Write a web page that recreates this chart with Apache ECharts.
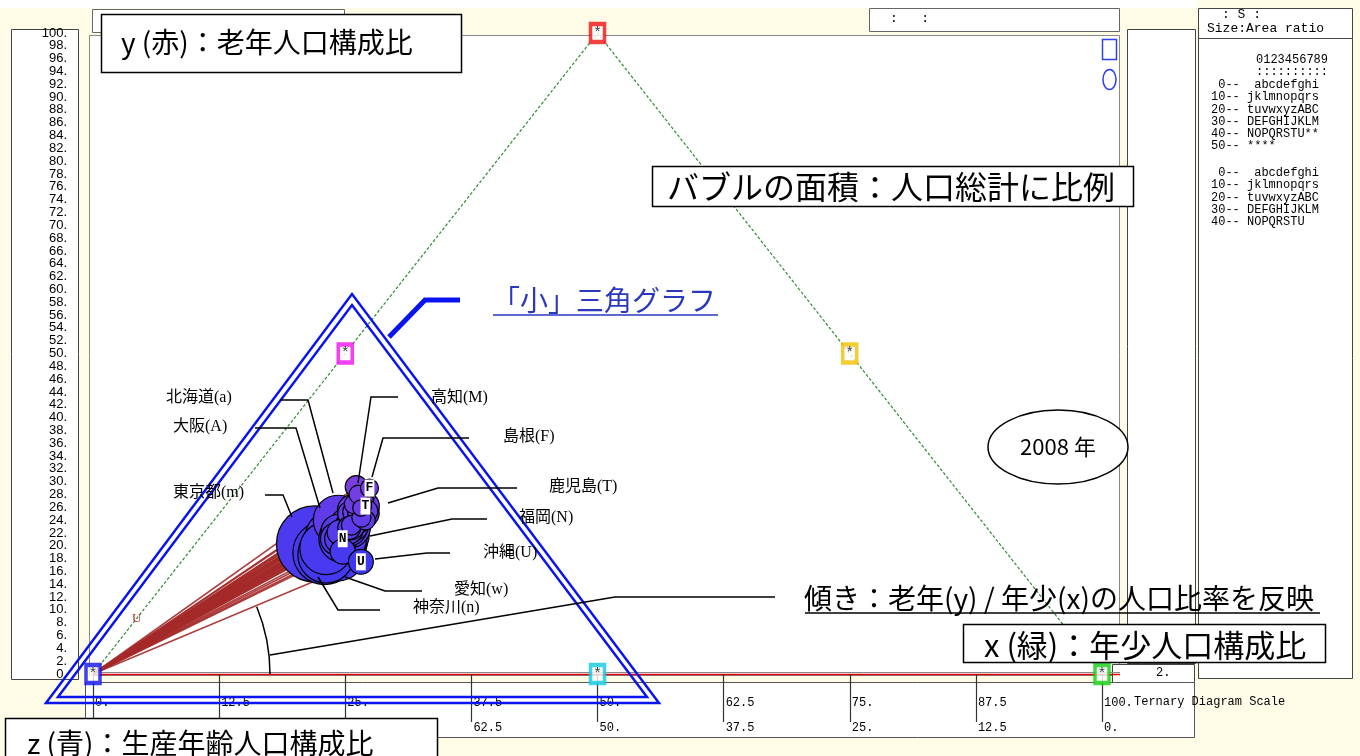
<!DOCTYPE html>
<html><head><meta charset="utf-8">
<script src="https://cdn.jsdelivr.net/npm/echarts@6/dist/echarts.min.js"></script>
<style>html,body{margin:0;padding:0;background:#fefce6}#c{width:1360px;height:756px}</style>
</head><body><div id="c"></div>
<script>
// ---- data (2008, by prefecture code 1..47) ----
const letters = ['a','b','c','d','e','f','g','h','i','j','k','l','m','n','o','p','q','r','s','t','u','v','w','x','y','z',
  'A','B','C','D','E','F','G','H','I','J','K','L','M','N','O','P','Q','R','S','T','U'];
// x : youth (0-14) ratio %
const youth = [12.3,13.0,13.1,13.6,11.5,13.2,14.1,13.8,13.9,14.0,13.8,13.3,11.8,13.5,13.1,13.2,14.0,14.4,14.0,13.9,
  14.2,14.0,14.7,13.9,15.2,13.2,13.6,14.0,13.4,13.4,13.6,12.9,14.0,14.0,12.9,12.6,13.7,13.3,12.3,14.2,
  15.0,14.1,14.4,13.5,14.4,13.9,17.8];
// y : elderly (65+) ratio %
const elderly = [24.0,25.0,26.8,21.1,29.2,26.9,24.5,21.3,21.1,22.6,18.6,19.6,20.3,18.9,25.5,25.3,22.8,24.4,23.2,25.6,
  23.2,22.9,19.0,23.2,19.1,22.2,21.0,21.8,22.1,26.3,25.9,29.0,24.3,22.8,27.3,26.5,25.2,26.0,28.0,21.1,
  24.0,25.3,25.1,26.2,25.4,26.2,17.5];
// total population (thousands)
const population = [5507,1393,1364,2340,1106,1187,2067,2969,2013,2008,7090,6139,12838,8943,2405,1103,1170,814,873,2180,
  2100,3797,7403,1873,1400,2635,8817,5589,1408,1012,593,724,1950,2873,1474,800,1006,1452,775,5055,
  855,1443,1814,1202,1143,1719,1378];
const bubbleLetterShown = ['N','T','U','F'];
// ternary frame
const vertexPoints = [[0,0],[50,0],[100,0],[25,50],[75,50],[50,100]];
const edgePath = [[0,0],[50,100],[100,0]];
const xTickValues = [0,12.5,25,37.5,50,62.5,75,87.5,100];
// callout names
const calloutNames = ['北海道(a)','大阪(A)','東京都(m)','高知(M)','島根(F)','鹿児島(T)','福岡(N)','沖縄(U)','愛知(w)','神奈川(n)'];
const legendRows1 = [' 0--  abcdefghi','10-- jklmnopqrs','20-- tuvwxyzABC','30-- DEFGHIJKLM','40-- NOPQRSTU**','50-- ****'];
const legendRows2 = [' 0--  abcdefghi','10-- jklmnopqrs','20-- tuvwxyzABC','30-- DEFGHIJKLM','40-- NOPQRSTU'];

// ---- styles ----
const vertexColors = ['#1010f0','#10c8e0','#10d010','#f010f0','#f0c000','#f01010'];
const CJK = '"Noto Sans CJK JP"';
const MONO = '"Liberation Mono"';
const NARROW = '"Liberation Sans Narrow", "Liberation Sans"';
const fmt = v => Number.isInteger(v) ? v + '.' : String(v);

const maxPop = Math.max(...population);
const pts = youth.map((x, i) => ({h: x + elderly[i] / 2, v: elderly[i], p: population[i], l: letters[i]}));
const order = pts.map((_, i) => i).sort((a, b) => pts[b].p - pts[a].p);
const bubbleData = order.map(i => {
  const d = {value: [pts[i].h, pts[i].v, pts[i].p, pts[i].l]};
  if (bubbleLetterShown.includes(pts[i].l)) d.label = {show: true};
  return d;
});
const fanData = order.map(i => ({coords: [[0, 0], [pts[i].h, pts[i].v]]}));

function rect(x, y, w, h, fill, stroke, z, lw) {
  return {type: 'rect', z: z, silent: true, shape: {x, y, width: w, height: h},
    style: {fill: fill, stroke: stroke, lineWidth: lw || 1}};
}
function text(t, x, y, font, fill, z, align) {
  return {type: 'text', z: z, silent: true,
    style: {text: t, x, y, font: font, fill: fill || '#000', textAlign: align || 'left', textVerticalAlign: 'middle', verticalAlign: 'middle'}};
}
function pline(points, stroke, lw, z) {
  return {type: 'polyline', z: z, silent: true, shape: {points}, style: {stroke, lineWidth: lw, fill: null}};
}

const g = [];
// background panels
g.push(rect(0, 0, 1197, 8, '#ffffff', null, -20));
g.push(rect(11.5, 29.5, 67, 650, '#ffffff', '#444', -20));
g.push(rect(92.5, 9.5, 252, 23, '#ffffff', '#666', -20));
g.push(rect(869.5, 8.5, 250, 23, '#ffffff', '#666', -20));
g.push(rect(89.5, 35.5, 1030, 640, '#ffffff', '#888', -20));
g.push(rect(1127.5, 29.5, 68, 634, '#ffffff', '#444', -20));
g.push(rect(1112.5, 664.5, 82, 18, '#ffffff', '#444', -20));
g.push(rect(1198.5, 8.5, 154, 30, '#ffffff', '#444', -20));
g.push(rect(1198.5, 38.5, 154, 640, '#ffffff', '#444', -20));
g.push(rect(85.5, 682.5, 1109, 55, '#ffffff', '#555', -20));
g.push(pline([[93, 672.5], [1120, 672.5]], '#888', 1, -15));
g.push(pline([[93, 674.5], [1120, 674.5]], '#e00000', 1.6, -15));
// small header texts
g.push(text(':   :', 890, 19, '13px ' + MONO, '#000', 5));
g.push(text(': S :', 1222, 15, '13px ' + MONO, '#000', 5));
g.push(text('Size:Area ratio', 1207, 29, '13px ' + MONO, '#000', 5));
g.push(text('0123456789', 1256, 60, '12px ' + MONO, '#000', 5));
g.push(text('::::::::::', 1256, 72, '12px ' + MONO, '#000', 5));
legendRows1.forEach((r, i) => g.push(text(r, 1211, 85 + i * 12.2, '12px ' + MONO, '#000', 5)));
legendRows2.forEach((r, i) => g.push(text(r, 1211, 173 + i * 12.2, '12px ' + MONO, '#000', 5)));
g.push(text('2.', 1156, 673, '12px ' + MONO, '#000', 5));
g.push(text('Ternary Diagram Scale', 1134, 702, '12px ' + MONO, '#000', 5));
// top-right symbol key
g.push(rect(1102.5, 39.5, 14, 20, null, '#3040f0', 5, 1.5));
g.push({type: 'ellipse', z: 5, silent: true, shape: {cx: 1109.5, cy: 79.5, rx: 6.5, ry: 10}, style: {fill: null, stroke: '#3040f0', lineWidth: 1.5}});
// small red U on edge
g.push(text('U', 132, 619, '13px "Liberation Serif"', '#b03030', 5));
// small triangle (double line)
g.push({type: 'polygon', z: 30, silent: true, shape: {points: [[46, 703], [352, 294], [659, 703]]}, style: {fill: null, stroke: '#0a14f0', lineWidth: 2.5}});
g.push({type: 'polygon', z: 30, silent: true, shape: {points: [[58, 697], [352, 305], [647, 697]]}, style: {fill: null, stroke: '#0a14f0', lineWidth: 2.5}});
g.push(pline([[389, 337], [425, 300], [460, 300]], '#0a14f0', 5, 30));
g.push(text('「小」三角グラフ', 492, 300, '28px ' + CJK, '#2a38c0', 30));
g.push(pline([[493, 315], [718, 315]], '#2a38c0', 1.5, 30));
// slope annotation
g.push({type: 'arc', z: 30, silent: true, shape: {cx: 93, cy: 674, r: 177, startAngle: -0.39, endAngle: 0.0, clockwise: true}, style: {fill: null, stroke: '#000', lineWidth: 1.5}});
g.push(pline([[270, 655], [615, 597], [775, 597]], '#000', 1.5, 30));
g.push(text('傾き：老年(y) / 年少(x)の人口比率を反映', 804, 598, '28px ' + CJK, '#000', 30));
g.push(pline([[805, 613], [1320, 613]], '#000', 1.5, 30));
// callout leader lines + names
const leaders = [
  [[280, 400], [308, 400], [333, 493]],
  [[255, 428], [296, 428], [320, 508]],
  [[265, 495], [283, 495], [292, 517]],
  [[398, 397], [371, 397], [358, 483]],
  [[469, 438], [383, 438], [372, 477]],
  [[517, 488], [438, 488], [388, 503]],
  [[487, 519], [452, 519], [370, 536]],
  [[450, 553], [427, 553], [375, 559]],
  [[422, 591], [385, 591], [345, 577]],
  [[380, 610], [338, 610], [318, 577]]
];
const namePos = [[166, 398], [173, 427], [173, 493], [431, 398], [503, 437], [549, 487], [519, 518], [483, 553], [454, 590], [413, 608]];
leaders.forEach(p => g.push(pline(p, '#000', 1.5, 40)));
calloutNames.forEach((n, i) => g.push(text(n, namePos[i][0], namePos[i][1], '16px "Liberation Serif", ' + CJK, '#000', 40)));
// boxed titles
g.push(rect(101.5, 14.5, 360, 58, '#ffffff', '#000', 50, 1.5));
g.push(text('y (赤)：老年人口構成比', 121, 42, '28px ' + CJK, '#000', 51));
g.push(rect(652.5, 166.5, 481, 40, '#ffffff', '#000', 50, 1.5));
g.push(text('バブルの面積：人口総計に比例', 667, 187, '32px ' + CJK, '#000', 51));
g.push({type: 'ellipse', z: 50, silent: true, shape: {cx: 1058, cy: 447, rx: 70, ry: 37}, style: {fill: '#ffffff', stroke: '#000', lineWidth: 1.5}});
g.push(text('2008 年', 1058, 447, '22px ' + CJK, '#000', 51, 'center'));
g.push(rect(963.5, 624.5, 362, 38, '#ffffff', '#000', 50, 1.5));
g.push(text('x (緑)：年少人口構成比', 984, 645, '31px ' + CJK, '#000', 51));
g.push(rect(5.5, 718.5, 432, 45, '#ffffff', '#000', 50, 1.5));
g.push(text('z (青)：生産年齢人口構成比', 27, 743, '28px ' + CJK, '#000', 51));

const chart = echarts.init(document.getElementById('c'), null, {renderer: 'canvas'});
chart.setOption({
  animation: false,
  backgroundColor: '#fefce6',
  grid: {left: 93, top: 33, width: 1009, height: 641},
  xAxis: {
    type: 'value', min: 0, max: 100, interval: 12.5, position: 'bottom', offset: 8,
    axisLine: {show: false},
    axisTick: {show: true, length: 48, lineStyle: {color: '#333', width: 1.2}},
    splitLine: {show: false},
    axisLabel: {
      align: 'left', margin: 8, padding: [0, 0, 0, 2], showMinLabel: true, showMaxLabel: true,
      formatter: v => xTickValues.includes(v) ? '{a|' + fmt(v) + '}\n{a|' + fmt(100 - v) + '}' : '',
      rich: {a: {fontFamily: MONO, fontSize: 12, color: '#000', lineHeight: 25}}
    }
  },
  yAxis: {
    type: 'value', min: 0, max: 100, interval: 2,
    axisLine: {show: false}, axisTick: {show: false}, splitLine: {show: false},
    axisLabel: {formatter: v => fmt(v), margin: 26, fontFamily: NARROW, fontSize: 13, color: '#000', lineHeight: 12}
  },
  visualMap: {show: false, type: 'continuous', seriesIndex: 2, dimension: 1, min: 17, max: 29,
    inRange: {color: ['#3c38f4', '#7a3ee0']}},
  series: [
    {type: 'line', data: edgePath, symbol: 'none', silent: true, z: 1,
      lineStyle: {color: '#2e8b2e', width: 1.2, type: [3, 2]}},
    {type: 'lines', coordinateSystem: 'cartesian2d', data: fanData, silent: true, z: 2,
      lineStyle: {color: '#a52a2a', width: 1.6, opacity: 0.9}},
    {type: 'scatter', data: bubbleData, z: 3,
      symbolSize: d => 76 * Math.sqrt(d[2] / maxPop),
      itemStyle: {borderColor: '#000', borderWidth: 1.2, opacity: 1},
      label: {show: false, position: 'inside', formatter: p => p.value[3], color: '#000', backgroundColor: '#fff',
        fontFamily: MONO, fontWeight: 'bold', fontSize: 13, padding: [2, 1]}},
    {type: 'scatter', data: vertexPoints.map((p, i) => ({value: p, itemStyle: {borderColor: vertexColors[i]}})), z: 4,
      symbol: 'rect', symbolSize: [14, 18],
      itemStyle: {color: '#ffffff', borderWidth: 4},
      label: {show: true, position: 'inside', formatter: '*', color: '#000', fontSize: 15, fontFamily: MONO}}
  ],
  graphic: {elements: g}
});
</script></body></html>
